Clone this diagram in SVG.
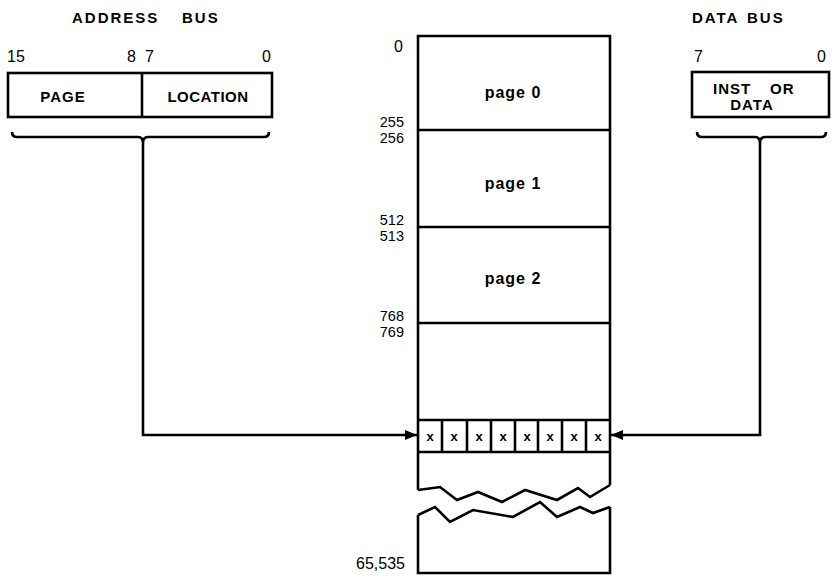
<svg xmlns="http://www.w3.org/2000/svg" width="838" height="579" viewBox="0 0 838 579">
<style>
text{font-family:"Liberation Sans",Arial,sans-serif;fill:#000}
.t{font-size:15px;font-weight:bold;letter-spacing:2px}
.n{font-size:16px}
.m{font-size:14.5px}
.b{font-size:15px;font-weight:bold}
.p{font-size:16px;font-weight:bold}
.x{font-size:13px;font-weight:bold}
.s{fill:none;stroke:#000;stroke-width:2.6;stroke-linejoin:miter}
</style>
<defs>
<marker id="ah" viewBox="0 0 12 10" refX="12" refY="5" markerWidth="12" markerHeight="10" markerUnits="userSpaceOnUse" orient="auto">
<path d="M0,0 L12,5 L0,10 Z" fill="#000"/>
</marker>
</defs>
<rect width="838" height="579" fill="#fff"/>

<g id="address-bus">
<text class="t" x="72" y="23">ADDRESS</text>
<text class="t" x="182" y="23">BUS</text>
<text class="n" x="7" y="62">15</text>
<text class="n" x="127" y="62">8</text>
<text class="n" x="145" y="62">7</text>
<text class="n" x="262" y="62">0</text>
<rect class="s" x="8" y="73" width="264" height="44"/>
<line class="s" x1="142" y1="73" x2="142" y2="117"/>
<text class="b" x="63" y="102" text-anchor="middle" letter-spacing="1">PAGE</text>
<text class="b" x="208" y="102" text-anchor="middle" letter-spacing="0.5">LOCATION</text>
<path class="s" d="M12,132 Q12,137 17,137 L138,137 Q143,137 143,143 Q143,137 148,137 L264,137 Q269,137 269,132"/>
</g>

<g id="data-bus">
<text class="t" x="692" y="23" letter-spacing="1">DATA</text>
<text class="t" x="747" y="23" letter-spacing="3">BUS</text>
<text class="n" x="694" y="62">7</text>
<text class="n" x="817" y="62">0</text>
<rect class="s" x="692" y="72" width="137" height="45"/>
<text class="b" x="713" y="94" letter-spacing="1">INST</text>
<text class="b" x="770" y="94" letter-spacing="1">OR</text>
<text class="b" x="752" y="110" text-anchor="middle" letter-spacing="1">DATA</text>
<path class="s" d="M697,132 Q697,137 702,137 L755,137 Q760,137 760,143 Q760,137 765,137 L821,137 Q826,137 826,132"/>
</g>

<g id="memory">
<path class="s" d="M418,490 L418,36 L610,36 L610,485"/>
<line class="s" x1="418" y1="130" x2="610" y2="130"/>
<line class="s" x1="418" y1="227" x2="610" y2="227"/>
<line class="s" x1="418" y1="323" x2="610" y2="323"/>
<line class="s" x1="418" y1="420" x2="610" y2="420"/>
<line class="s" x1="418" y1="452" x2="610" y2="452"/>
<path class="s" d="M418,490 L440,487 L457,500 L478,492 L502,502 L525,490 L557,500 L578,488 L590,497 L610,485"/>
<path class="s" d="M418,515 L435,507 L450,522 L473,510 L513,517 L540,502 L557,517 L580,507 L593,513 L610,507"/>
<path class="s" d="M418,515 L418,573 L610,573 L610,507"/>
<text class="p" x="513" y="98" text-anchor="middle" letter-spacing="1">page 0</text>
<text class="p" x="513" y="189" text-anchor="middle" letter-spacing="1">page 1</text>
<text class="p" x="513" y="284" text-anchor="middle" letter-spacing="1">page 2</text>
<text class="n" x="403" y="52" text-anchor="end">0</text>
<text class="m" x="404" y="127" text-anchor="end">255</text>
<text class="m" x="404" y="143" text-anchor="end">256</text>
<text class="m" x="404" y="225" text-anchor="end">512</text>
<text class="m" x="404" y="241" text-anchor="end">513</text>
<text class="m" x="404" y="321" text-anchor="end">768</text>
<text class="m" x="404" y="337" text-anchor="end">769</text>
<text class="n" x="405" y="569" text-anchor="end">65,535</text>
</g>

<g id="cells">
<line class="s" x1="442" y1="420" x2="442" y2="452"/>
<line class="s" x1="467" y1="420" x2="467" y2="452"/>
<line class="s" x1="491" y1="420" x2="491" y2="452"/>
<line class="s" x1="515" y1="420" x2="515" y2="452"/>
<line class="s" x1="538" y1="420" x2="538" y2="452"/>
<line class="s" x1="562" y1="420" x2="562" y2="452"/>
<line class="s" x1="586" y1="420" x2="586" y2="452"/>
<text class="x" x="430" y="441" text-anchor="middle">x</text>
<text class="x" x="454" y="441" text-anchor="middle">x</text>
<text class="x" x="479" y="441" text-anchor="middle">x</text>
<text class="x" x="503" y="441" text-anchor="middle">x</text>
<text class="x" x="527" y="441" text-anchor="middle">x</text>
<text class="x" x="550" y="441" text-anchor="middle">x</text>
<text class="x" x="574" y="441" text-anchor="middle">x</text>
<text class="x" x="598" y="441" text-anchor="middle">x</text>
</g>

<g id="connectors">
<path class="s" d="M143,143 L143,435 L417,435" marker-end="url(#ah)"/>
<path class="s" d="M760,143 L760,435 L611,435" marker-end="url(#ah)"/>
</g>
</svg>
